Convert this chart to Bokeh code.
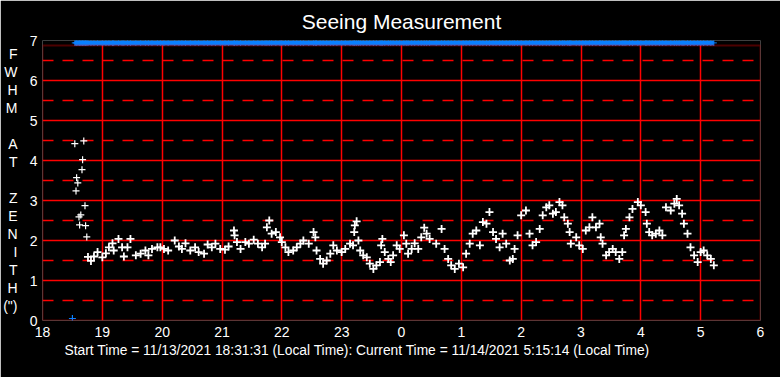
from bokeh.plotting import figure
from bokeh.models import (FixedTicker, Grid, BoxAnnotation, ColumnDataSource, Range1d, Title,
                          LinearAxis)
from bokeh.embed import file_html
from bokeh.resources import INLINE

title_text = "Seeing Measurement"
footer_text = "Start Time = 11/13/2021 18:31:31 (Local Time): Current Time = 11/14/2021 5:15:14 (Local Time)"
y_label_letters = ["F", "W", "H", "M", "A", "T", "Z", "E", "N", "I", "T", "H", "(\")"]
y_label_rows = [0, 1, 2, 3, 5, 6, 8, 9, 10, 11, 12, 13, 14]

x_ticks = [18, 19, 20, 21, 22, 23, 24, 25, 26, 27, 28, 29, 30]
x_tick_labels = ["18", "19", "20", "21", "22", "23", "0", "1", "2", "3", "4", "5", "6"]
y_ticks = [0, 1, 2, 3, 4, 5, 6, 7]
y_dash_ticks = [0.5, 1.5, 2.5, 3.5, 4.5, 5.5, 6.5]

# early high readings (hours since midnight of start day)
spike_time = [18.54, 18.56, 18.57, 18.59, 18.61, 18.62, 18.64, 18.66, 18.67, 18.69, 18.71, 18.72, 18.74]
spike_fwhm = [4.42, 3.24, 3.57, 3.44, 2.59, 2.39, 2.64, 3.77, 4.02, 4.49, 2.87, 2.37, 2.09]

seeing_time = [
    18.76, 18.81, 18.86, 18.92, 19.00, 19.06, 19.11, 19.17, 19.19, 19.27, 19.33, 19.36, 19.42, 19.47,
    19.56, 19.64, 19.72, 19.77, 19.83, 19.92, 19.97, 20.03, 20.10, 20.21, 20.28, 20.33, 20.39, 20.47,
    20.55, 20.61, 20.70, 20.76, 20.83, 20.89, 20.97, 21.05, 21.11, 21.20, 21.21, 21.25, 21.31, 21.39,
    21.45, 21.53, 21.60, 21.67, 21.72, 21.75, 21.79, 21.83, 21.90, 21.97, 22.00, 22.06, 22.11, 22.19,
    22.25, 22.31, 22.36, 22.45, 22.53, 22.56, 22.58, 22.64, 22.69, 22.75, 22.81, 22.86, 22.92, 23.00,
    23.06, 23.14, 23.19, 23.21, 23.22, 23.25, 23.28, 23.31, 23.36, 23.42, 23.47, 23.53, 23.58, 23.64,
    23.66, 23.68, 23.72, 23.78, 23.82, 23.86, 23.92, 23.97, 24.04, 24.08, 24.11, 24.17, 24.22, 24.28,
    24.33, 24.38, 24.42, 24.47, 24.58, 24.67, 24.72, 24.78, 24.83, 24.89, 24.96, 25.03, 25.08, 25.14,
    25.19, 25.25, 25.31, 25.36, 25.42, 25.47, 25.53, 25.58, 25.64, 25.69, 25.75, 25.81, 25.86, 25.89,
    25.94, 26.00, 26.08, 26.14, 26.19, 26.25, 26.31, 26.36, 26.42, 26.47, 26.53, 26.58, 26.64, 26.69,
    26.72, 26.78, 26.81, 26.83, 26.92, 26.97, 27.03, 27.08, 27.14, 27.19, 27.25, 27.31, 27.33, 27.36,
    27.42, 27.47, 27.53, 27.58, 27.64, 27.69, 27.72, 27.75, 27.81, 27.86, 27.95, 28.00, 28.08, 28.10,
    28.14, 28.19, 28.25, 28.31, 28.36, 28.42, 28.50, 28.56, 28.60, 28.64, 28.69, 28.72, 28.78, 28.83,
    28.89, 28.95, 29.00, 29.05, 29.11, 29.17, 29.22,
]
seeing_fwhm = [
    1.59, 1.49, 1.60, 1.71, 1.58, 1.68, 1.83, 1.93, 1.75, 2.04, 1.83, 1.60, 1.83, 2.04,
    1.63, 1.67, 1.75, 1.63, 1.79, 1.83, 1.83, 1.79, 1.75, 2.00, 1.85, 1.79, 1.93, 1.75,
    1.83, 1.71, 1.67, 1.90, 1.83, 1.92, 1.79, 1.77, 1.85, 2.25, 2.13, 1.96, 1.79, 1.96,
    1.92, 2.02, 1.92, 1.83, 1.92, 2.33, 2.50, 2.17, 2.21, 2.08, 1.96, 1.83, 1.71, 1.75,
    1.83, 1.92, 2.00, 1.92, 2.21, 2.08, 1.75, 1.54, 1.42, 1.50, 1.67, 1.88, 1.75, 1.71,
    1.79, 1.92, 1.88, 2.21, 2.38, 2.48, 2.00, 1.75, 1.63, 1.58, 1.42, 1.29, 1.38, 1.46,
    1.88, 2.04, 1.71, 1.54, 1.46, 1.63, 1.88, 1.79, 2.13, 1.92, 1.67, 1.79, 1.93, 1.79,
    2.08, 2.32, 2.17, 2.04, 1.92, 2.29, 1.79, 1.54, 1.38, 1.29, 1.42, 1.33, 1.67, 1.92,
    2.17, 2.25, 1.88, 2.46, 2.42, 2.71, 2.21, 2.04, 1.83, 2.17, 1.92, 1.50, 1.54, 1.79,
    2.13, 2.63, 2.75, 2.17, 1.88, 1.96, 2.29, 2.63, 2.83, 2.88, 2.67, 2.71, 2.96, 2.88,
    2.58, 2.42, 2.21, 1.92, 2.08, 1.88, 1.79, 2.25, 2.33, 2.58, 2.33, 2.42, 2.08, 1.92,
    1.63, 1.71, 1.79, 1.71, 1.54, 1.71, 2.13, 2.29, 2.58, 2.79, 2.96, 2.88, 2.71, 2.42,
    2.21, 2.13, 2.17, 2.25, 2.13, 2.83, 2.75, 2.92, 3.04, 2.88, 2.67, 2.42, 2.17, 1.83,
    1.63, 1.46, 1.71, 1.75, 1.63, 1.54, 1.38,
]

# blue status markers
blue_level = 6.94
blue_low_time = [18.50]
blue_low_value = [0.05]

FONT = "Liberation Sans"
RED = "#ff0000"
BLUE = "#0a80ff"

p = figure(width=780, height=377, output_backend="svg", toolbar_location=None,
           x_range=Range1d(18, 30), y_range=Range1d(0, 7),
           min_border_left=40, min_border_right=20, min_border_top=40, min_border_bottom=57)
p.background_fill_color = "black"
p.border_fill_color = "black"
p.outline_line_color = None

p.title.text = title_text
p.title.align = "center"
p.title.text_color = "white"
p.title.text_font = FONT
p.title.text_font_size = "21px"
p.title.text_font_style = "normal"
p.title.standoff = 15

# axes
p.xaxis.ticker = FixedTicker(ticks=x_ticks)
p.xaxis.major_label_overrides = {t: l for t, l in zip(x_ticks, x_tick_labels)}
p.yaxis.ticker = FixedTicker(ticks=y_ticks)

# letter-stacked y-axis title drawn as a second, label-only axis
row_top, row_step = 6.675, 0.45
letter_pos = [round(row_top - row_step * r, 3) for r in y_label_rows]
letter_axis = LinearAxis(ticker=FixedTicker(ticks=letter_pos),
                         major_label_overrides={t: l for t, l in zip(letter_pos, y_label_letters)})
p.add_layout(letter_axis, "left")

for ax in (p.xaxis[0], p.yaxis[0], letter_axis):
    ax.axis_line_color = None
    ax.major_tick_line_color = None
    ax.minor_tick_line_color = None
    ax.major_tick_out = 0
    ax.major_tick_in = 0
    ax.minor_tick_out = 0
    ax.minor_tick_in = 0
    ax.major_label_text_color = "white"
    ax.major_label_text_font = FONT
    ax.major_label_text_font_size = "14px"
p.xaxis.major_label_standoff = 6
p.yaxis[0].major_label_standoff = 5
letter_axis.major_label_standoff = 9

footer = Title(text=footer_text, align="left", offset=22, text_color="white", text_font=FONT,
               text_font_size="13.8px", text_font_style="normal", standoff=2,
               vertical_align="bottom")
p.add_layout(footer, "below")

# grids
p.xgrid.ticker = FixedTicker(ticks=x_ticks[1:-1])
p.xgrid.grid_line_color = RED
p.xgrid.grid_line_width = 1.5
p.ygrid.ticker = FixedTicker(ticks=y_ticks[1:-1])
p.ygrid.grid_line_color = RED
p.ygrid.grid_line_width = 1.5
dash_grid = Grid(dimension=1, ticker=FixedTicker(ticks=y_dash_ticks),
                 grid_line_color=RED, grid_line_width=1.5, grid_line_dash="11 9")
p.add_layout(dash_grid)

# data
src = ColumnDataSource(dict(t=seeing_time, v=seeing_fwhm))
spk = ColumnDataSource(dict(t=spike_time, v=spike_fwhm))
all_times = spike_time + seeing_time
blue_src = ColumnDataSource(dict(t=all_times, v=[blue_level] * len(all_times)))
blue_low = ColumnDataSource(dict(t=blue_low_time, v=blue_low_value))

p.line("t", "v", source=blue_src, line_width=5, line_color=BLUE)
p.scatter("t", "v", source=blue_src, marker="cross", size=6, line_width=1, line_color=BLUE)
p.scatter("t", "v", source=blue_low, marker="cross", size=7, line_width=1.2, line_color=BLUE)
p.scatter("t", "v", source=spk, marker="cross", size=7, line_width=1.2, line_color="white")
p.scatter("t", "v", source=src, marker="cross", size=8, line_width=1.8, line_color="white")

# frame border
p.add_layout(BoxAnnotation(left=18, right=30, bottom=0, top=6.875, fill_alpha=0,
                           line_color=RED, line_width=2))

open("out.html", "w").write(file_html(p, INLINE))
